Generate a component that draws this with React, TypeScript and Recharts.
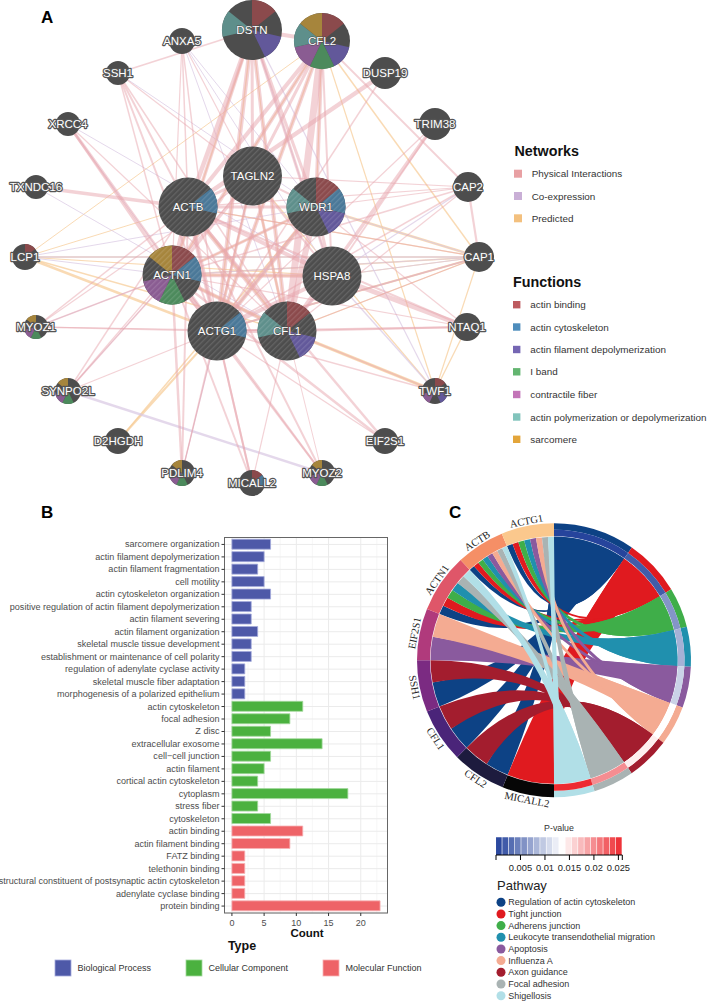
import React from "react";
import {
  ScatterChart, Scatter, XAxis, YAxis, ReferenceLine, Sector,
  BarChart, Bar, Cell, CartesianGrid, PieChart, Pie,
} from "recharts";

const SANS = "'Liberation Sans', Arial, sans-serif";
const SERIF = "'Liberation Serif', 'Times New Roman', serif";

/* ---------- Panel A: network ---------- */
const nodeNames = ["DSTN","CFL2","ANXA5","SSH1","DUSP19","XRCC4","TRIM38","TXNDC16","CAP2","ACTB","TAGLN2","WDR1","LCP1","CAP1","ACTN1","HSPA8","MYOZ1","NTAQ1","ACTG1","CFL1","SYNPO2L","TWF1","D2HGDH","EIF2S1","PDLIM4","MICALL2","MYOZ2"];
const nodeX = [252,322,182,118,385,68,435,36,468,188,252.5,316,25,479,172,332,36,467,217,287,68,435,118,385,182,252,322];
const nodeY = [30,41,41,73,73,124,124,187,187,207,176,207,257,257,275,276,327,327,331,331,391,391,441,441,473,483,473];
const nodeScore = [30,28,13,12,16,12,16,12,15,29.5,29.5,29.5,13,15,29.5,29.5,12,14,29.5,29.5,13,13,13,13,13,13,13];
const queryGenes = ["ACTB","TAGLN2","WDR1","ACTN1","HSPA8","ACTG1","CFL1"];
const nodeFunctions: Record<string, number[]> = {
  DSTN:[0,2,5], CFL2:[0,2,3,4,5,6], ACTB:[1], WDR1:[0,1,2,5], ACTN1:[0,1,3,4,6], ACTG1:[1], CFL1:[0,2,5],
  LCP1:[0], MYOZ1:[3,4,6], SYNPO2L:[3,4,6], PDLIM4:[3,4,6], MICALL2:[0,1], MYOZ2:[3,4,6], TWF1:[0,2,4],
};
const functionNames = ["actin binding","actin cytoskeleton","actin filament depolymerization","I band","contractile fiber","actin polymerization or depolymerization","sarcomere"];
const functionLegendColors = ["#bd5b5f","#4e8dbc","#7566b3","#63b570","#c375b8","#82c4bc","#e3a53a"];
const functionNodeColors = ["#8b4a4c","#4a7898","#62589a","#4c8a5c","#8a5c92","#5e8f8b","#a6853c"];
const networkNames = ["Physical Interactions","Co-expression","Predicted"];
const networkColors = ["#e8a0a3","#c9afd6","#f3c07e"];

type E = [string, string, number];
const predictedEdges: E[] = [
  ["LCP1","ACTG1",2.5],["LCP1","CFL1",1.5],["LCP1","CAP1",1.5],["LCP1","CFL2",1],["LCP1","ACTB",1],["LCP1","HSPA8",1.2],
  ["D2HGDH","ACTG1",2],["D2HGDH","WDR1",1.5],["CFL2","WDR1",1.2],["CFL2","TWF1",1.2],["CFL2","ACTG1",1.5],["CFL2","CAP1",1.5],["CFL2","ACTN1",1.5],
  ["CFL1","TWF1",3],["CAP1","TWF1",1.2],["NTAQ1","TWF1",1.2],["CAP1","ACTB",1.2],["CAP1","ACTG1",2],["CAP1","ACTN1",1.5],["CAP1","CFL1",1.2],
  ["CAP1","WDR1",2.5],["CAP1","HSPA8",1.2],["ACTG1","WDR1",2.5],["ACTN1","CFL1",2.5],["ACTN1","HSPA8",2],["CFL1","TAGLN2",2],
  ["ACTG1","DSTN",1.5],["ACTB","CFL1",2],["TWF1","TAGLN2",1.2],["DSTN","ACTN1",1.5],["ACTN1","WDR1",1.5],["ACTG1","TAGLN2",1.5],["DSTN","CFL1",1.2],
];
const coexpressionEdges: E[] = [
  ["ANXA5","WDR1",1],["ANXA5","CFL1",1],["ANXA5","HSPA8",1],["SSH1","WDR1",1],["XRCC4","HSPA8",1],["XRCC4","ACTG1",1],["TXNDC16","CFL1",1],
  ["LCP1","ACTN1",1.2],["LCP1","CAP1",1.5],["LCP1","WDR1",1],["SYNPO2L","MYOZ2",2.5],["SYNPO2L","ACTN1",1],["PDLIM4","ACTG1",1],
  ["TWF1","HSPA8",1.4],["TWF1","DSTN",1.2],["CAP1","WDR1",1.2],["CAP1","HSPA8",1.2],["CAP2","HSPA8",1.2],["DSTN","HSPA8",1.2],["CAP1","ACTN1",1.2],["CAP1","ACTG1",1.2],
  ["MYOZ1","ACTN1",1],["CFL1","HSPA8",1.2],["WDR1","ACTG1",1.2],
];
const physicalEdges: E[] = [
  ["ACTB","ACTG1",4.5],["ACTB","ACTN1",4.5],["ACTB","CFL1",4.5],["ACTB","TAGLN2",3],["ACTB","WDR1",3],["ACTB","HSPA8",4],["ACTB","DSTN",4.5],["ACTB","CFL2",4],
  ["ACTG1","ACTN1",4.5],["ACTG1","CFL1",4],["ACTG1","TAGLN2",3],["ACTG1","WDR1",4.5],["ACTG1","HSPA8",4],["ACTG1","DSTN",4.5],["ACTG1","CFL2",4],
  ["ACTN1","CFL1",4],["ACTN1","TAGLN2",3],["ACTN1","WDR1",3],["ACTN1","HSPA8",4],["ACTN1","DSTN",3.5],["ACTN1","CFL2",4],
  ["CFL1","TAGLN2",3],["CFL1","WDR1",6],["CFL1","HSPA8",3],["CFL1","DSTN",4],["CFL1","CFL2",7],
  ["TAGLN2","WDR1",2],["TAGLN2","HSPA8",2],["TAGLN2","DSTN",3],["TAGLN2","CFL2",3],["WDR1","HSPA8",3],["WDR1","DSTN",3],["WDR1","CFL2",4],["DSTN","CFL2",4],["HSPA8","DSTN",3],["HSPA8","CFL2",2],
  ["SSH1","DSTN",1.8],["SSH1","ACTB",2],["SSH1","ACTN1",1.5],["SSH1","ACTG1",2],["SSH1","CFL1",1.5],["SSH1","TAGLN2",1.2],
  ["ANXA5","ACTB",1.5],["ANXA5","ACTG1",1.5],["ANXA5","ACTN1",1.2],["ANXA5","TAGLN2",1.2],["XRCC4","ACTG1",3],["XRCC4","ACTN1",2.5],["XRCC4","CFL1",1.2],["TXNDC16","ACTB",3.5],
  ["DUSP19","ACTB",4.5],["DUSP19","ACTG1",1.5],["TRIM38","CFL1",3.5],["TRIM38","HSPA8",1.8],["TRIM38","ACTG1",1.2],
  ["CAP2","CFL2",1.8],["CAP2","CAP1",2.2],["CAP2","ACTB",1.2],["CAP2","ACTG1",1.5],["CAP2","CFL1",1.2],["CAP2","ACTN1",1.5],["CAP2","TAGLN2",1.2],["CAP2","WDR1",1.2],
  ["CAP1","ACTB",1.2],["CAP1","ACTG1",1.8],["CAP1","CFL1",1.2],
  ["NTAQ1","HSPA8",5],["NTAQ1","CFL1",2],["NTAQ1","ACTG1",1.8],["NTAQ1","ACTN1",1.2],["NTAQ1","ACTB",2],["NTAQ1","WDR1",1.2],
  ["TWF1","CFL1",1.5],["TWF1","ACTG1",1.5],["EIF2S1","ACTN1",2.5],["EIF2S1","ACTB",2.5],["EIF2S1","ACTG1",1.2],
  ["MYOZ2","ACTN1",2],["MYOZ2","ACTG1",2],["MYOZ2","ACTB",2],["MYOZ2","CFL1",1],["MICALL2","ACTN1",2],["MICALL2","ACTG1",2],["MICALL2","ACTB",2],["MICALL2","CFL1",1.2],
  ["PDLIM4","ACTN1",2.5],["PDLIM4","ACTG1",1.2],["PDLIM4","ACTB",2],["PDLIM4","TAGLN2",1.2],["SYNPO2L","ACTN1",1.8],["SYNPO2L","ACTB",1.5],["SYNPO2L","ACTG1",1.2],["SYNPO2L","TAGLN2",1.2],
  ["MYOZ1","ACTN1",1.5],["MYOZ1","ACTB",1.5],["MYOZ1","ACTG1",1.5],["MYOZ1","CFL1",1.2],["MYOZ1","TAGLN2",1.2],
];

const nodeTable = nodeNames.map((name, i) => ({ name, x: nodeX[i], y: nodeY[i], score: nodeScore[i] }));
const pos = (n: string) => { const i = nodeNames.indexOf(n); return { x: nodeX[i], y: nodeY[i] }; };

function NodeShape(props: any) {
  const { cx, cy, payload } = props;
  const { name, score } = payload;
  const r = score;
  const big = r > 25;
  const slots = nodeFunctions[name] || [];
  return (
    <g>
      <circle cx={cx} cy={cy} r={r} fill="#4d4d4d" />
      {slots.map((s) => (
        <Sector key={s} cx={cx} cy={cy} innerRadius={0} outerRadius={r}
          startAngle={90 - (s * 360) / 7} endAngle={90 - ((s + 1) * 360) / 7} fill={functionNodeColors[s]} stroke="none" />
      ))}
      {queryGenes.includes(name) && <circle cx={cx} cy={cy} r={r} fill="url(#hatch)" />}
      <text x={cx} y={cy} textAnchor="middle" dominantBaseline="central" fontFamily={SANS} fontSize={11.5}
        fill="#fff" stroke={big ? "#4d4d4d" : "#555"} strokeWidth={big ? 1 : 2.4} paintOrder="stroke" strokeLinejoin="round">{name}</text>
    </g>
  );
}

function edgeLines(list: E[], color: string, op: number, tag: string) {
  return list.map(([a, b, w], i) => (
    <ReferenceLine key={tag + i} segment={[pos(a), pos(b)]} stroke={color} strokeWidth={w} strokeOpacity={op} ifOverflow="visible" />
  ));
}

function NetworkChart() {
  return (
    <ScatterChart width={500} height={500} margin={{ top: 0, right: 0, bottom: 0, left: 0 }}
      style={{ position: "absolute", left: 0, top: 0 }}>
      <defs>
        <pattern id="hatch" width="4" height="4" patternUnits="userSpaceOnUse" patternTransform="rotate(45)">
          <rect x="0" y="0" width="1.3" height="4" fill="#ffffff" fillOpacity="0.13" />
        </pattern>
      </defs>
      <XAxis type="number" dataKey="x" domain={[0, 500]} hide />
      <YAxis type="number" dataKey="y" domain={[0, 500]} reversed hide width={0} />
      {edgeLines(predictedEdges, "#f6cb94", 0.7, "p")}
      {edgeLines(coexpressionEdges, "#d8c8e2", 0.7, "c")}
      {edgeLines(physicalEdges, "#e8a6ad", 0.5, "h")}
      <Scatter data={nodeTable} isAnimationActive={false} shape={NodeShape} />
    </ScatterChart>
  );
}

/* ---------- Panel B: bars ---------- */
const termNames = ["sarcomere organization","actin filament depolymerization","actin filament fragmentation","cell motility","actin cytoskeleton organization","positive regulation of actin filament depolymerization","actin filament severing","actin filament organization","skeletal muscle tissue development","establishment or maintenance of cell polarity","regulation of adenylate cyclase activity","skeletal muscle fiber adaptation","morphogenesis of a polarized epithelium","actin cytoskeleton","focal adhesion","Z disc","extracellular exosome","cell\u2212cell junction","actin filament","cortical actin cytoskeleton","cytoplasm","stress fiber","cytoskeleton","actin binding","actin filament binding","FATZ binding","telethonin binding","structural constituent of postsynaptic actin cytoskeleton","adenylate cyclase binding","protein binding"];
const termCounts = [6,5,4,5,6,3,3,4,3,3,2,2,2,11,9,6,14,6,5,4,18,4,6,11,9,2,2,2,2,23];
const termTypes = [0,0,0,0,0,0,0,0,0,0,0,0,0,1,1,1,1,1,1,1,1,1,1,2,2,2,2,2,2,2];
const typeNames = ["Biological Process","Cellular Component","Molecular Function"];
const typeColors = ["#4e59a8","#4bb13f","#ee6367"];
const typeStrokes = ["#a5abdc","#a3d99d","#f7b4b6"];
const countMajorTicks = [0,5,10,15,20];
const countMinorTicks = [2.5,7.5,12.5,17.5,22.5];
const barTable = termNames.map((term, i) => ({ term, count: termCounts[i], type: termTypes[i] }));

function TermTick(props: any) {
  const { x, y, payload } = props;
  return (
    <text x={x} y={y} textAnchor="end" dominantBaseline="central" fontFamily={SANS} fontSize={9.05} fill="#4d4d4d">{payload.value}</text>
  );
}

function BarPanel() {
  return (
    <BarChart layout="vertical" width={400} height={420} data={barTable} barSize={10}
      margin={{ top: 7.5, right: 12.5, bottom: 0, left: 0 }} style={{ position: "absolute", left: 0, top: 530 }}>
      <CartesianGrid horizontal={false} verticalValues={countMinorTicks} stroke="#f3f3f3" strokeWidth={0.7} />
      <CartesianGrid stroke="#ebebeb" strokeWidth={1} verticalValues={countMajorTicks} />
      <XAxis type="number" domain={[-1.15, 24.15]} ticks={countMajorTicks} height={37} axisLine={false}
        tickSize={3} tickMargin={4} tick={{ fontFamily: SANS, fontSize: 9, fill: "#4d4d4d" }} tickLine={{ stroke: "#333" }} />
      <YAxis type="category" dataKey="term" width={224.5} interval={0} axisLine={false} padding={{ top: 0.7, bottom: 0.7 }}
        tickSize={3} tickMargin={2} tick={TermTick} tickLine={{ stroke: "#333" }} />
      <Bar dataKey="count" isAnimationActive={false} strokeWidth={0.8}>
        {barTable.map((d, i) => <Cell key={i} fill={typeColors[d.type]} stroke={typeStrokes[d.type]} />)}
      </Bar>
      <rect x={224.5} y={7.5} width={163} height={375.5} fill="none" stroke="#666" strokeWidth={1} />
    </BarChart>
  );
}

/* ---------- Panel C: chord ---------- */
const pathwayNames = ["Regulation of actin cytoskeleton","Tight junction","Adherens junction","Leukocyte transendothelial migration","Apoptosis","Influenza A","Axon guidance","Focal adhesion","Shigellosis"];
const pathwayColors = ["#0d4285","#e01a1f","#3fae49","#2090ae","#8a5a9e","#f4ab92","#a31d2e","#a9b3b3","#b1dfe7"];
const pathwaySpans = [34.6,24.2,17,16.9,17.5,16.8,18.5,17.3,17.2];
const pathwayPValues = [0.0003,0.002,0.006,0.008,0.0103,0.0135,0.0145,0.02,0.0256];
const geneNames = ["MICALL2","CFL2","CFL1","SSH1","EIF2S1","ACTN1","ACTB","ACTG1"];
const geneColors = ["#060606","#1d1b3e","#4a2479","#7b2b82","#b03a7c","#df5669","#f58f66","#fbc88d"];
const genePathways = [[1],[0,6],[0,6],[0,6],[4,5],[0,1,2,3,7,8],[0,1,2,3,4,5,7,8],[0,1,2,3,4,5,7,8]];
const geneLinkSpans = [[22],[11,12],[11.4,11.6],[11.6,10.4],[11,11],[4.2,4.2,4.2,4.2,4.1,4.1],[2.6,2.6,2.6,2.6,2.6,2.6,2.6,2.4],[2.8,2.8,2.8,2.8,2.8,2.8,2.8,2.8]];

const CX = 154, CY = 160.3, R_RIBBON = 123.5, R_IN = 124, R_MID = 130.5, R_OUT = 137, BULB_T = 0.36;

function pColor(p: number) {
  const mix = (a: number[], b: number[], t: number) => a.map((v, i) => Math.round(v + (b[i] - v) * t));
  const low = [33, 64, 154], mid = [255, 255, 255], high = [237, 40, 46];
  const c = p < 0.0135 ? mix(low, mid, p / 0.0135) : mix(mid, high, (p - 0.0135) / 0.0123);
  return `rgb(${c[0]},${c[1]},${c[2]})`;
}
const polar = (deg: number, r: number) => {
  const t = (deg * Math.PI) / 180;
  return [CX + r * Math.sin(t), CY - r * Math.cos(t)];
};
// first part of the centre-bent edge from a ring angle to another ring angle
function edgeStart(fromDeg: number, toDeg: number) {
  const [x0, y0] = polar(fromDeg, R_RIBBON), [x2, y2] = polar(toDeg, R_RIBBON);
  const t = BULB_T, u = 1 - t;
  return {
    cx: x0 + (CX - x0) * t, cy: y0 + (CY - y0) * t,
    x: u * u * x0 + 2 * u * t * CX + t * t * x2, y: u * u * y0 + 2 * u * t * CY + t * t * y2,
  };
}

function buildRibbons() {
  const startOf: number[] = [];
  pathwaySpans.reduce((s, v, i) => { startOf[i] = s; return s + v; }, 0);
  const ribbons: { p: number; d: string }[] = [];
  let geneAngle = 180;
  const geneEnds: { p: number; b1: number; b2: number }[] = [];
  genePathways.forEach((g, gi) => g.forEach((p, li) => {
    const w = geneLinkSpans[gi][li];
    geneEnds.push({ p, b1: geneAngle, b2: geneAngle + w });
    geneAngle += w;
  }));
  const R = R_RIBBON;
  pathwaySpans.forEach((span, p) => {
    const ends = geneEnds.filter((e) => e.p === p).sort((a, b) => a.b1 - b.b1);
    const total = ends.reduce((s, e) => s + (e.b2 - e.b1), 0);
    let a = startOf[p];
    ends.forEach((e) => {
      const w = (span * (e.b2 - e.b1)) / total;
      const a1 = a, a2 = a + w;
      a = a2;
      const [x1, y1] = polar(a1, R), [x2, y2] = polar(a2, R);
      const [x3, y3] = polar(e.b1, R), [x4, y4] = polar(e.b2, R);
      ribbons.push({ p, d: `M${x1} ${y1}A${R} ${R} 0 0 1 ${x2} ${y2}Q${CX} ${CY} ${x3} ${y3}A${R} ${R} 0 0 1 ${x4} ${y4}Q${CX} ${CY} ${x1} ${y1}Z` });
    });
    // solid wide end of the pathway, where its ribbons lie over one another
    const s = startOf[p], f = s + span;
    const first = edgeStart(s, ends[0].b2), last = edgeStart(f, ends[ends.length - 1].b1);
    const [sx, sy] = polar(s, R), [fx, fy] = polar(f, R);
    ribbons.push({ p, d: `M${sx} ${sy}A${R} ${R} 0 0 1 ${fx} ${fy}Q${last.cx} ${last.cy} ${last.x} ${last.y}L${first.x} ${first.y}Q${first.cx} ${first.cy} ${sx} ${sy}Z` });
  });
  return ribbons;
}

const geneSpans = geneLinkSpans.map((l) => l.reduce((a, b) => a + b, 0));
const pathwayRing = [...pathwayNames.map((name, i) => ({ name, span: pathwaySpans[i] })), { name: "", span: 180 }];
const geneRing = [{ name: "", span: 180 }, ...geneNames.map((name, i) => ({ name, span: geneSpans[i] }))];

function geneLabel(props: any) {
  const { name, midAngle } = props;
  if (!name) return null;
  const a = 90 - midAngle;
  const deg = ((a % 360) + 360) % 360;
  const [x, y] = polar(deg, 142);
  const rot = deg < 270 ? deg - 180 : deg - 360;
  return (
    <text x={x} y={y} textAnchor="middle" dominantBaseline="central" fontFamily={SERIF} fontSize={10.5} fill="#222"
      transform={`rotate(${rot} ${x} ${y})`}>{name}</text>
  );
}

function ChordPanel() {
  const ribbons = buildRibbons();
  return (
    <PieChart width={308} height={320} margin={{ top: 0, right: 0, bottom: 0, left: 0 }} style={{ position: "absolute", left: 400, top: 500 }}>
      {ribbons.map((r, i) => <path key={i} d={r.d} fill={pathwayColors[r.p]} />)}
      <Pie data={pathwayRing} dataKey="span" nameKey="name" cx={CX} cy={CY} innerRadius={R_MID} outerRadius={R_OUT}
        startAngle={90} endAngle={-270} stroke="none" isAnimationActive={false} label={false}>
        {pathwayRing.map((d, i) => <Cell key={i} fill={d.name ? pathwayColors[i] : "none"} />)}
      </Pie>
      <Pie data={pathwayRing} dataKey="span" nameKey="name" cx={CX} cy={CY} innerRadius={R_IN} outerRadius={R_MID}
        startAngle={90} endAngle={-270} stroke="none" isAnimationActive={false} label={false}>
        {pathwayRing.map((d, i) => <Cell key={i} fill={d.name ? pColor(pathwayPValues[i]) : "none"} />)}
      </Pie>
      <Pie data={geneRing} dataKey="span" nameKey="name" cx={CX} cy={CY} innerRadius={R_IN} outerRadius={R_OUT}
        startAngle={90} endAngle={-270} stroke="none" isAnimationActive={false} labelLine={false} label={geneLabel}>
        {geneRing.map((d, i) => <Cell key={i} fill={d.name ? geneColors[i - 1] : "none"} />)}
      </Pie>
    </PieChart>
  );
}

/* ---------- colour bar ---------- */
const pBinMids = [0.00065,0.00194,0.00323,0.00452,0.00581,0.0071,0.00839,0.00968,0.01097,0.01226,0.01355,0.01484,0.01613,0.01742,0.01871,0.02,0.02129,0.02258,0.02387,0.02516];
const binHeights = pBinMids.map(() => 1);
const binTable = pBinMids.map((p, i) => ({ p, h: binHeights[i] }));
const pTicks = [0,0.005,0.01,0.015,0.02,0.025,0.0258];
const pLabelled = [0.005,0.01,0.015,0.02,0.025];

function ColorBar() {
  return (
    <BarChart width={228} height={50} data={binTable} margin={{ top: 7.3, right: 85.7, bottom: 0, left: 16 }} barSize={7}
      style={{ position: "absolute", left: 480, top: 830 }}>
      <XAxis type="number" dataKey="p" domain={[0, 0.0258]} ticks={pTicks} height={25} interval={0} allowDataOverflow
        tickFormatter={(v: number) => (pLabelled.includes(v) ? String(v) : "")} tickSize={5} tickMargin={4}
        stroke="#000" tick={{ fontFamily: SANS, fontSize: 9.3, fill: "#222" }} />
      <YAxis type="number" domain={[0, 1]} hide width={0} />
      <Bar dataKey="h" isAnimationActive={false} stroke="none">
        {binTable.map((d, i) => <Cell key={i} fill={pColor(d.p)} />)}
      </Bar>
    </BarChart>
  );
}

/* ---------- fixed text & legends ---------- */
const networkLegendY = [173.7,196,218.3];
const functionLegendY = [304.7,327,349.5,371.8,394.5,417,439.3];
const typeLegendX = [55,186,323];
const pathwayLegendY = [902.3,914,925.6,937.3,949,960.6,972.3,984,995.7];

function Overlay() {
  const t = { fontFamily: SANS, fill: "#333", dominantBaseline: "central" as const };
  return (
    <svg width={708} height={1001} style={{ position: "absolute", left: 0, top: 0, pointerEvents: "none" }}>
      <g fontFamily={SANS} fontWeight="bold" fontSize={17} fill="#000" dominantBaseline="central">
        <text x={41} y={17}>A</text><text x={41} y={512}>B</text><text x={449} y={512}>C</text>
      </g>
      <text x={514.5} y={150.7} {...t} fontSize={14.3} fontWeight="bold" fill="#111">Networks</text>
      {networkNames.map((n, i) => (
        <g key={n}>
          <rect x={514} y={networkLegendY[i] - 4} width={8} height={8} fill={networkColors[i]} />
          <text x={531.7} y={networkLegendY[i]} {...t} fontSize={9.9}>{n}</text>
        </g>
      ))}
      <text x={513} y={281.7} {...t} fontSize={14.3} fontWeight="bold" fill="#111">Functions</text>
      {functionNames.map((n, i) => (
        <g key={n}>
          <rect x={513} y={functionLegendY[i] - 3.7} width={7.4} height={7.4} fill={functionLegendColors[i]} />
          <text x={530.3} y={functionLegendY[i]} {...t} fontSize={9.9}>{n}</text>
        </g>
      ))}
      <text x={307} y={933} textAnchor="middle" {...t} fontSize={11.5} fontWeight="bold" fill="#111">Count</text>
      <text x={242} y={946} textAnchor="middle" {...t} fontSize={12.5} fontWeight="bold" fill="#111">Type</text>
      {typeNames.map((n, i) => (
        <g key={n}>
          <rect x={typeLegendX[i]} y={960} width={16} height={16} fill={typeColors[i]} stroke={typeStrokes[i]} strokeWidth={0.8} />
          <text x={typeLegendX[i] + 22.5} y={968} {...t} fontSize={9}>{n}</text>
        </g>
      ))}
      <text x={559} y={828} textAnchor="middle" {...t} fontSize={8.8}>P-value</text>
      <text x={497} y={885.7} {...t} fontSize={13} fill="#222">Pathway</text>
      {pathwayNames.map((n, i) => (
        <g key={n}>
          <circle cx={501} cy={pathwayLegendY[i]} r={4.5} fill={pathwayColors[i]} />
          <text x={508.3} y={pathwayLegendY[i]} {...t} fontSize={9}>{n}</text>
        </g>
      ))}
    </svg>
  );
}

export default function App() {
  return (
    <div style={{ position: "absolute", left: 0, top: 0, width: 708, height: 1001, background: "#fff", overflow: "hidden" }}>
      <NetworkChart />
      <BarPanel />
      <ChordPanel />
      <ColorBar />
      <Overlay />
    </div>
  );
}
